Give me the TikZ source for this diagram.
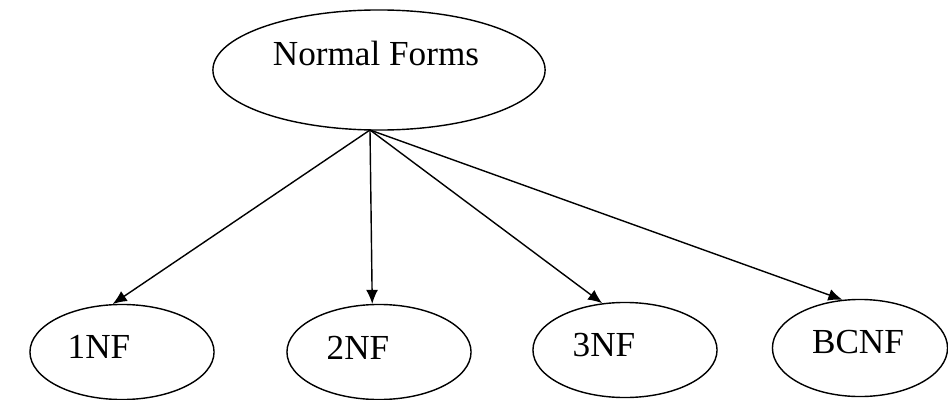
\documentclass[tikz,border=0pt]{standalone}
\usepackage{fontspec}
\setmainfont{Liberation Serif}
\usetikzlibrary{shapes.geometric,arrows.meta}

\tikzset{
  form/.style={draw=black,ellipse,inner sep=0pt},
  lbl/.style={inner sep=0pt,font=\fontsize{10}{12}\selectfont},
  link/.style={color=black,-{Latex[length=4pt,width=3.4pt]}}
}

\begin{document}
\begin{tikzpicture}[x=0.01cm,y=-0.01cm]
\useasboundingbox (0,0) rectangle (948,400);

% The root ellipse and its label
\node[form,minimum width=3.32cm,minimum height=1.2cm] (nf) at (379,70) {};
\node[lbl] (nflbl) at (376,53) {Normal Forms};
\coordinate (hub) at (370,130);

% The four normal forms below it
\node[form,minimum width=1.84cm,minimum height=0.95cm] (n1) at (122,352) {};
\node[form,minimum width=1.84cm,minimum height=0.95cm] (n2) at (379,352) {};
\node[form,minimum width=1.84cm,minimum height=0.95cm] (n3) at (625,350) {};
\node[form,minimum width=1.75cm,minimum height=0.97cm] (bc) at (860,348) {};
\node[lbl] (n1lbl) at (99,347) {1NF};
\node[lbl] (n2lbl) at (358,348) {2NF};
\node[lbl] (n3lbl) at (604,345) {3NF};
\node[lbl] (bclbl) at (858,342) {BCNF};

% The arrows from the root
\draw[link] (hub) -- (n1.101);
\draw[link] (hub) -- (n2.98);
\draw[link] (hub) -- (n3.116);
\draw[link] (hub) -- (bc.110);

\end{tikzpicture}
\end{document}
